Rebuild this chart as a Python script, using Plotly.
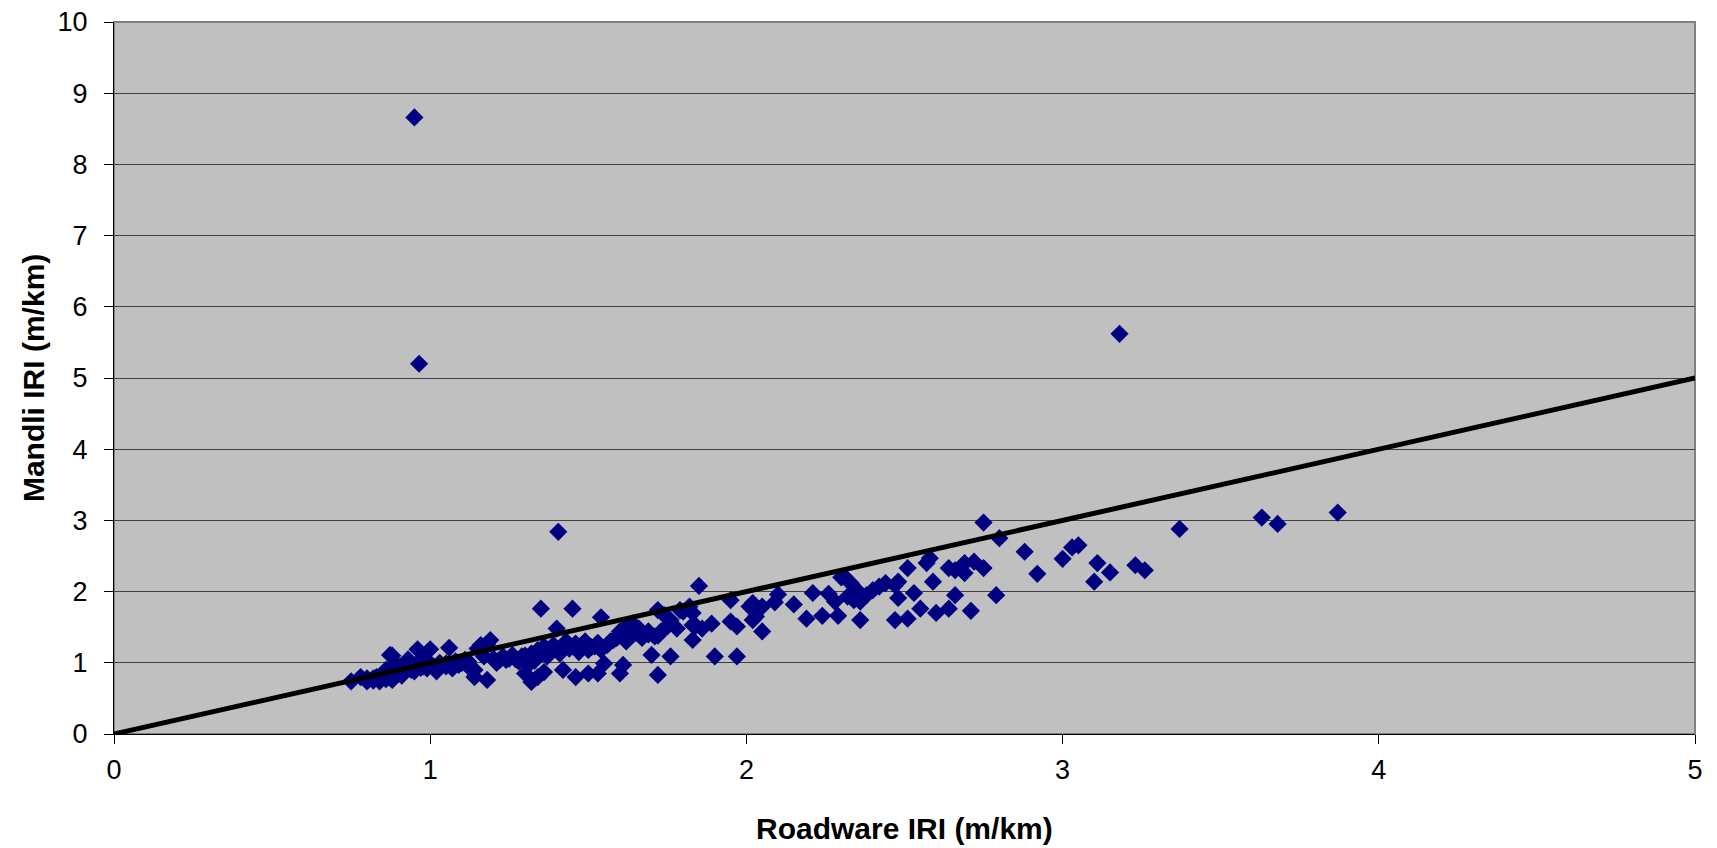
import plotly.graph_objects as go

# Roadware IRI (m/km) vs Mandli IRI (m/km)
roadware_iri = [
    0.75, 0.78, 0.80, 0.82, 0.83, 0.84, 0.85, 0.86, 0.87, 0.88, 0.88, 0.89, 0.90, 0.91, 0.92,
    0.93, 0.94, 0.95, 0.96, 0.96, 0.97, 0.98, 0.99, 1.00, 1.00, 1.01, 1.02, 1.03,
    1.05, 1.06, 1.07, 1.08, 1.09, 1.11, 1.12, 1.14, 1.14, 1.15, 1.16, 1.17, 1.18, 1.19, 1.20,
    1.21, 1.23, 1.24, 1.26, 1.27, 1.29, 1.30, 1.31, 1.32, 1.32, 1.33, 1.34, 1.34, 1.35, 1.36,
    1.36, 1.37, 1.38, 1.39, 1.40, 1.405, 1.41, 1.42, 1.43, 1.44, 1.45, 1.46, 1.46, 1.47, 1.49,
    1.50, 1.51, 1.52, 1.53, 1.54, 1.54, 1.55, 1.56, 1.58, 1.60, 1.60, 1.61, 1.62, 1.64, 1.66,
    1.69, 1.71, 1.70, 1.72, 1.72, 1.73, 1.74, 1.75, 1.76, 1.76, 1.79, 1.82, 1.83, 1.83, 1.83,
    1.85, 1.86, 1.89, 1.90, 1.95, 1.95, 1.97, 1.97, 2.01, 2.02, 2.02, 2.03, 2.05, 2.05, 2.09,
    2.10, 2.15, 2.19, 2.21, 2.24, 2.26, 2.28, 2.29, 2.31, 2.32, 2.33, 2.35, 2.34, 2.36, 2.36,
    2.38, 2.40, 2.42, 2.44, 2.47, 2.47, 2.48, 2.48, 2.51, 2.51, 2.53, 2.55, 2.57, 2.58, 2.59,
    2.60, 2.64, 2.64, 2.66, 2.66, 2.69, 2.69, 2.71, 2.72, 2.75, 2.75, 2.79, 2.80, 2.88, 2.92,
    3.00, 3.03, 3.05, 3.10, 3.11, 3.15, 3.18, 3.23, 3.26, 3.37, 3.63, 3.68, 3.87, 0.95, 0.965,
    1.42, 1.48, 1.50, 1.53, 1.57, 1.59, 1.61, 1.63, 1.65, 1.67, 1.69, 1.72, 1.78, 1.80, 1.84,
    1.62, 1.44, 1.38, 1.30, 1.28, 1.25, 1.22, 1.12, 1.10, 1.05, 0.98, 0.93, 0.90, 0.86, 0.82,
    0.80, 0.88, 0.92, 1.18, 0.873, 2.30, 2.32,
]
mandli_iri = [
    0.74, 0.80, 0.78, 0.75, 0.80, 0.74, 0.85, 0.77, 0.80, 1.10, 0.95, 0.85, 0.90, 0.82, 0.96,
    1.05, 0.90, 0.88, 1.19, 1.00, 0.93, 1.04, 0.92, 1.19, 0.99, 0.95, 0.88, 1.00,
    0.99, 1.21, 0.92, 1.02, 0.97, 1.04, 0.95, 0.80, 0.90, 1.20, 1.25, 1.09, 0.76, 1.32, 1.06,
    1.00, 1.09, 1.04, 1.11, 1.05, 1.09, 0.85, 0.97, 0.73, 1.13, 1.03, 0.80, 1.18, 1.76, 0.87,
    1.23, 1.09, 1.15, 1.25, 1.48, 2.84, 1.13, 0.90, 1.30, 1.20, 1.76, 0.80, 1.27, 1.15, 1.30,
    0.85, 1.22, 1.23, 0.85, 1.18, 1.64, 0.99, 1.25, 1.32, 1.44, 0.85, 0.97, 1.51, 1.55, 1.48,
    1.44, 1.37, 1.11, 1.74, 0.83, 1.44, 1.67, 1.51, 1.60, 1.09, 1.74, 1.79, 1.70, 1.53, 1.32,
    2.08, 1.48, 1.55, 1.09, 1.88, 1.58, 1.51, 1.09, 1.79, 1.84, 1.60, 1.65, 1.79, 1.44, 1.85,
    1.96, 1.82, 1.62, 1.98, 1.66, 1.97, 1.86, 1.66, 2.21, 1.93, 2.12, 2.02, 1.88, 1.60, 1.86,
    1.95, 2.02, 2.07, 2.12, 2.09, 1.60, 2.14, 1.91, 2.33, 1.62, 1.98, 1.76, 2.40, 2.47, 2.14,
    1.70, 2.33, 1.76, 2.30, 1.95, 2.40, 2.26, 1.73, 2.42, 2.33, 2.97, 1.95, 2.75, 2.56, 2.25,
    2.46, 2.62, 2.65, 2.14, 2.40, 2.27, 5.62, 2.37, 2.30, 2.88, 3.04, 2.95, 3.11, 8.66, 5.20,
    1.20, 1.25, 1.18, 1.28, 1.30, 1.35, 1.40, 1.38, 1.42, 1.35, 1.40, 1.38, 1.48, 1.72, 1.52,
    1.30, 1.25, 1.20, 1.10, 1.02, 1.06, 1.04, 1.02, 1.00, 0.95, 0.95, 0.92, 0.95, 0.90, 0.78,
    0.74, 0.76, 0.88, 1.26, 1.11, 2.20, 2.16,
]

# Line of equality
equality_x = [0, 5]
equality_y = [0, 5]

x_ticks = [0, 1, 2, 3, 4, 5]
y_ticks = [0, 1, 2, 3, 4, 5, 6, 7, 8, 9, 10]

x_title = "Roadware IRI (m/km)"
y_title = "Mandli IRI (m/km)"

FONT = "Liberation Sans, Arial, sans-serif"

fig = go.Figure()
fig.add_trace(go.Scatter(
    x=roadware_iri, y=mandli_iri, mode="markers",
    marker=dict(symbol="diamond", size=14, color="#000080", line=dict(width=0)),
    showlegend=False, cliponaxis=False,
))
fig.add_trace(go.Scatter(
    x=equality_x, y=equality_y, mode="lines",
    line=dict(color="#000000", width=5),
    showlegend=False,
))

axis_common = dict(
    showline=True, linecolor="#000000", linewidth=1,
    ticks="outside", ticklen=9, tickcolor="#000000", tickwidth=1,
    tickfont=dict(family=FONT, size=27, color="#000000"),
    zeroline=False, automargin=False,
)

fig.update_xaxes(
    range=[0, 5], tickvals=x_ticks, showgrid=False, ticklabelstandoff=3,
    mirror=False, **axis_common,
)
fig.update_yaxes(
    range=[0, 10], tickvals=y_ticks, showgrid=True, gridcolor="#404040", gridwidth=1,
    ticklabelstandoff=11, **axis_common,
)

fig.add_annotation(
    text=f"<b>{x_title}</b>", xref="paper", yref="paper", x=0.5, y=-0.1334,
    xanchor="center", yanchor="middle", showarrow=False,
    font=dict(family=FONT, size=30, color="#000000"),
)
fig.add_annotation(
    text=f"<b>{y_title}</b>", xref="paper", yref="paper", x=-0.0512, y=0.5,
    xanchor="center", yanchor="middle", showarrow=False, textangle=-90,
    font=dict(family=FONT, size=30, color="#000000"),
)

# plot-area border (grey, Excel style) on top and right
fig.add_shape(type="rect", xref="paper", yref="paper", x0=0, y0=0, x1=1, y1=1,
              line=dict(color="#808080", width=2), layer="below")

fig.update_layout(
    width=1717, height=848,
    margin=dict(l=114, r=22, t=22, b=114),
    paper_bgcolor="#FFFFFF", plot_bgcolor="#C0C0C0",
    font=dict(family=FONT),
)

fig.write_html(
    "out.html",
    config={"displayModeBar": False},
    post_script="document.body.style.margin='0';document.body.style.overflow='hidden';",
)
